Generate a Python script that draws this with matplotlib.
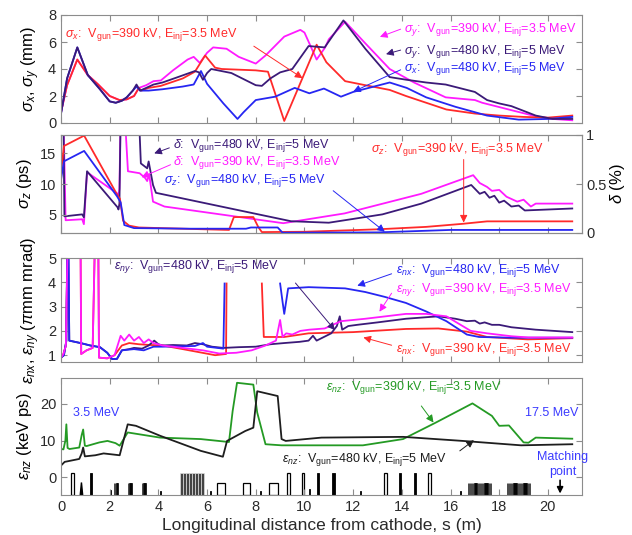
import numpy as np
import matplotlib
matplotlib.use("Agg")
import matplotlib.pyplot as plt

plt.rcParams["font.family"] = ["Liberation Sans", "DejaVu Sans"]
plt.rcParams["mathtext.fontset"] = "custom"
plt.rcParams["mathtext.rm"] = "Liberation Sans"
plt.rcParams["mathtext.it"] = "Liberation Sans:italic"
plt.rcParams["mathtext.bf"] = "Liberation Sans:bold"

NaN = np.nan
RED, MAG, PUR, BLU = "#ff2a2a", "#ff1aff", "#3b1a78", "#2626f2"
GRN, BLK, TXB = "#249a24", "#1e1e1e", "#3a3aff"

# ── panel 1: beam sizes (mm) ─────────────────────────────────────────────────
s_sx390 = [0, 0.25, 0.67, 1.1, 1.5, 2.0, 2.4, 2.7, 3.0, 3.2, 3.3, 3.6, 4.1, 5.0, 5.5, 5.92,
           6.33, 6.6, 8.0, 8.5, 9.17, 10.5, 10.9, 11.67, 12.5, 13.5, 14.17, 15.0, 15.83,
           17.0, 18.0, 19.0, 20.0, 21.0]
sx390 = [0.8, 2.8, 4.7, 3.55, 2.9, 2.0, 1.7, 1.75, 2.0, 2.6, 2.4, 2.6, 2.75, 3.3, 3.8, 5.0,
         4.1, 4.0, 3.9, 3.8, 0.15, 5.8, 4.5, 3.1, 2.8, 2.45, 2.0, 1.5, 1.0,
         0.7, 0.55, 0.45, 0.4, 0.55]

s_sy390 = [0, 0.25, 0.67, 1.1, 1.5, 2.0, 2.4, 2.7, 3.0, 3.2, 3.5, 3.8, 4.1, 4.6, 5.2, 5.45,
           5.7, 6.0, 6.25, 6.8, 7.3, 8.0, 8.4, 9.17, 9.83, 10.0, 10.5, 10.85, 11.0, 11.67,
           12.5, 13.5, 14.5, 15.8, 17.0, 17.3, 18.5, 19.5, 20.2, 21.0]
sy390 = [0.8, 2.8, 4.7, 3.55, 2.9, 2.0, 1.7, 1.75, 2.0, 2.6, 2.8, 3.1, 3.15, 3.9, 4.7, 4.9,
         4.45, 5.2, 5.6, 5.5, 4.9, 4.4, 5.0, 6.4, 6.9, 6.7, 4.7, 5.6, 6.2, 7.5,
         5.9, 4.0, 3.0, 1.9, 1.7, 1.5, 0.95, 0.5, 0.3, 0.2]

s_sy480 = [0, 0.25, 0.67, 1.1, 1.6, 2.0, 2.25, 2.5, 2.7, 2.95, 3.1, 3.25, 3.5, 3.8, 4.17,
           4.8, 5.5, 5.67, 5.83, 6.0, 6.17, 7.0, 8.0, 8.25, 8.6, 9.0, 9.5, 10.17, 10.83,
           11.6, 12.5, 13.5, 14.2, 15.0, 15.8, 17.0, 17.5, 18.0, 18.5, 19.5, 20.2, 21.0]
sy480 = [0.7, 3.3, 5.6, 3.55, 2.5, 1.6, 1.5, 1.65, 1.9, 2.4, 2.85, 2.4, 2.6, 2.85, 3.0,
         3.4, 3.85, 3.75, 3.2, 3.7, 4.0, 3.7, 2.8, 2.75, 3.3, 3.75, 4.0, 5.7, 5.6,
         7.6, 5.5, 3.4, 3.2, 3.0, 2.85, 2.3, 1.7, 1.45, 1.25, 0.55, 0.3, 0.3]

s_sx480 = [0, 0.25, 0.67, 1.1, 1.6, 2.0, 2.25, 2.5, 2.7, 2.95, 3.1, 3.25, 3.6, 4.17, 5.0,
           5.45, 5.75, 6.0, 6.67, 7.25, 7.5, 8.0, 8.8, 9.6, 10.2, 10.8, 11.5, 12.0, 13.5,
           14.2, 15.0, 16.2, 17.5, 18.8, 20.0, 21.0]
sx480 = [0.7, 3.3, 5.6, 3.55, 2.5, 1.6, 1.5, 1.65, 1.9, 2.4, 2.7, 2.4, 2.4, 2.5, 2.7,
         2.85, 3.85, 2.9, 1.45, 0.3, 0.8, 1.7, 1.95, 2.6, 2.2, 2.55, 1.95, 2.3, 3.0,
         2.6, 1.9, 1.2, 0.55, 0.25, 0.3, 0.45]

# ── panel 2: bunch length (ps) and energy spread (%) ─────────────────────────
s_sz390 = [0, 0.12, 0.95, 2.3, 2.42, 2.55, 2.8, 3.2, 5.0, 6.9, 7.1, 7.9, 8.1, 8.25, 10.0,
           13.0, 15.0, 16.5, 17.5, 21.0]
sz390 = [11.8, 16.2, 17.9, 8.3, 7.6, 4.0, 3.2, 2.9, 2.7, 2.5, 4.6, 4.6, 3.0, 2.15, 2.2,
         2.6, 3.0, 3.5, 3.9, 3.9]

s_sz480 = [0, 0.12, 0.95, 2.3, 2.45, 2.6, 3.0, 5.3, 7.6, 7.8, 8.9, 9.1, 13.0, 16.0, 21.0]
sz480 = [10.7, 13.7, 15.4, 8.0, 7.0, 3.3, 2.8, 2.7, 2.7, 2.9, 2.9, 2.05, 2.1, 2.5, 2.5]

s_d480 = [0, 0.1, 0.14, 0.87, 0.94, 1.07, 2.33, 2.36, 2.4, 2.45, 3.2, 3.28, 3.54, 3.6, 3.78,
          3.9, 9.45, 11.0, 13.2, 14.8, 16.85, 17.2, 17.4, 17.6, 17.8, 18.0, 18.2, 18.5,
          18.8, 19.05, 21.0]
d480 = [1.2, 1.2, 0.17, 0.19, 0.16, 0.63, 0.26, 0.24, 0.3, 1.2, 1.2, 0.71, 0.66, 0.73, 0.49,
        0.41, 0.12, 0.105, 0.19, 0.3, 0.49, 0.4, 0.42, 0.36, 0.38, 0.31, 0.33, 0.27,
        0.28, 0.23, 0.25]

s_d390 = [0, 0.1, 0.19, 0.87, 0.94, 1.07, 2.33, 2.36, 2.4, 2.45, 2.62, 2.75, 3.23, 3.46,
          3.54, 3.62, 3.78, 4.25, 9.13, 11.65, 14.8, 16.93, 17.2, 17.5, 17.7, 18.0, 18.3,
          18.74, 19.0, 19.3, 19.5, 21.0]
d390 = [1.2, 1.2, 0.13, 0.14, 0.09, 0.62, 0.4, 0.38, 0.45, 1.2, 1.2, 0.63, 0.61, 0.56,
        0.53, 0.6, 0.32, 0.27, 0.1, 0.2, 0.4, 0.59, 0.51, 0.47, 0.43, 0.44, 0.37,
        0.32, 0.34, 0.27, 0.3, 0.3]

# ── panel 3: transverse emittance (pi mm mrad) ───────────────────────────────
s_ey390 = [0, 0.1, 0.2, 0.28, 0.8, 0.83, 1.05, 1.3, 1.4, 1.53, 1.56, 1.9, 2.2, 2.45, 2.6,
           2.8, 3.0, 3.2, 3.4, 3.6, 3.8, 4.17, 4.6, 5.0, 5.83, 6.5, 7.2, 7.83, 8.4, 8.83,
           9.0, 9.1, 9.25, 9.5, 9.83, 10.2, 10.83, 11.5, 12.5, 14.17, 15.0, 15.83, 16.83,
           17.5, 18.5, 19.2, 21.0]
ey390 = [0.9, 1.05, 1.4, 6, 6, 1.05, 1.2, 1.3, 6, 6, 0.9, 0.87, 1.0, 1.8, 1.6,
         1.85, 1.6, 1.75, 1.5, 1.65, 1.5, 1.4, 1.35, 1.3, 1.2, 1.07, 1.1, 1.2, 1.4, 1.6,
         2.45, 1.75, 1.9, 1.85, 2.0, 2.05, 2.1, 2.4, 2.5, 2.7, 2.7, 2.6, 2.0,
         1.9, 1.78, 1.73, 1.73]

s_ey480 = [0, 0.12, 0.22, 0.26, 0.3, 0.34, 0.8, 1.2, 1.6, 1.9, 2.1, 2.3, 2.5, 2.8, 3.0,
           3.33, 3.6, 3.83, 4.0, 4.17, 4.6, 5.17, 5.5, 5.83, 6.2, 6.67, 7.3, 8.0, 8.6,
           9.17, 9.8, 10.17, 10.35, 10.5, 10.8, 11.1, 11.33, 11.45, 11.55, 11.8, 12.17,
           13.0, 14.17, 15.5, 16.2, 16.67, 17.0, 17.2, 17.4, 17.7, 18.0, 18.5, 19.5, 21.0]
ey480 = [0.9, 1.0, 1.6, 6, 6, 1.6, 1.5, 1.4, 1.33, 1.1, 0.84, 0.85, 1.2, 1.25, 1.3,
         1.27, 1.4, 1.6, 1.45, 1.4, 1.42, 1.4, 1.5, 1.45, 1.35, 1.3, 1.33, 1.35, 1.45,
         1.5, 1.55, 1.6, 1.8, 1.6, 1.75, 1.9, 2.2, 2.6, 2.05, 2.2, 2.25,
         2.35, 2.5, 2.6, 2.5, 2.4, 2.42, 2.3, 2.35, 2.25, 2.25, 2.15, 2.05, 1.95]

s_ex480 = [0, 0.12, 0.22, 0.26, 0.3, 0.34, 0.8, 1.2, 1.6, 1.9, 2.1, 2.3, 2.5, 3.0, 3.4,
           3.8, 4.17, 5.5, 5.83, 6.0, 6.67, 6.72, 6.73, 9.0, 9.1, 9.17, 9.33, 10.17, 11.67,
           12.5, 13.3, 14.17, 15.0, 15.83, 16.67, 17.17, 18.5, 21.0]
ex480 = [0.9, 1.0, 1.6, 6, 6, 1.6, 1.5, 1.4, 1.33, 1.1, 0.84, 0.85, 1.2, 1.25, 1.2,
         1.35, 1.35, 1.38, 1.5, 1.35, 1.27, 3.95, NaN, 3.95, 3.2, 2.7, 3.75, 3.8, 3.75,
         3.6, 3.4, 3.15, 2.8, 2.4, 1.85, 1.75, 1.72, 1.72]

s_ex390 = [0, 0.1, 0.2, 0.28, 0.8, 0.83, 1.05, 1.3, 1.4, 1.53, 1.56, 1.9, 2.2, 2.5, 2.8,
           3.2, 3.67, 4.17, 5.0, 5.8, 6.33, 6.78, 6.8, 6.81, 8.25, 8.33, 9.17, 10.17, 12.0,
           14.17, 15.5, 16.67, 17.5, 19.17, 21.0]
ex390 = [0.9, 1.05, 1.4, 6, 6, 1.05, 1.2, 1.3, 6, 6, 0.9, 0.87, 1.0, 1.4, 1.5,
         1.45, 1.42, 1.4, 1.25, 1.1, 1.0, 1.05, 3.95, NaN, 3.95, 1.75, 1.75, 1.9, 1.95,
         2.08, 2.1, 1.97, 1.75, 1.65, 1.7]

# ── panel 4: longitudinal emittance (keV ps) ─────────────────────────────────
s_ez390 = [0, 0.1, 0.18, 0.22, 0.27, 0.35, 0.75, 0.85, 0.91, 0.98, 1.05, 1.58, 1.91, 2.24,
           2.41, 2.74, 4.07, 5.74, 6.9, 7.05, 7.23, 7.9, 8.06, 8.4, 9.06, 12.4, 14.05,
           15.4, 16.9, 17.7, 18.0, 18.4, 19.0, 19.2, 19.5, 21.0]
ez390 = [7.7, 7.6, 10.0, 14.4, 8.0, 7.7, 8.1, 11.5, 13.0, 8.6, 8.5, 9.5, 9.9, 9.3,
         8.6, 12.2, 10.8, 10.4, 9.6, 18.0, 25.7, 25.2, 17.6, 9.0, 8.7, 8.7, 10.4,
         14.9, 20.1, 16.7, 14.0, 14.1, 9.5, 9.4, 10.8, 10.5]

s_ez480 = [0, 0.15, 0.75, 0.85, 0.91, 0.98, 1.41, 1.75, 2.41, 2.74, 3.08, 4.07, 5.74, 6.65,
           6.82, 7.57, 7.9, 8.06, 8.9, 9.06, 9.23, 10.7, 14.05, 16.5, 18.9, 21.0]
ez480 = [3.2, 4.2, 5.0, 6.5, 8.1, 5.7, 6.0, 6.5, 6.0, 14.4, 14.0, 11.3, 7.2, 5.6,
         9.9, 12.6, 13.5, 23.4, 22.1, 10.4, 9.9, 10.8, 11.0, 9.9, 8.7, 9.0]

# beamline elements: start, end, top, kind
el_s0 = [0.40, 0.79, 1.21, 2.02, 2.16, 2.74, 3.32, 4.05, 4.90, 6.13, 6.40, 7.48, 8.18,
         8.53, 9.28, 9.90, 10.18, 10.50, 11.15, 12.28, 13.25, 13.90, 14.50, 15.08, 16.38,
         16.70, 18.30]
el_s1 = [0.55, 0.89, 1.29, 2.07, 2.36, 2.94, 3.52, 4.10, 5.87, 6.18, 6.73, 7.76, 8.23,
         8.90, 9.39, 10.00, 10.23, 10.60, 11.25, 12.33, 13.38, 13.96, 14.60, 15.20, 16.43,
         17.70, 19.30]
el_top = [1.1, -1.4, 1.1, -3.5, -1.5, -1.5, -1.5, -3.8, 1.1, -3.8, -1.5, -1.5, -3.8,
          -1.5, 1.1, 1.1, -3.3, 1.1, 1.1, -3.8, 1.1, 1.1, 1.1, 1.1, -3.8,
          -1.5, -1.5]
el_kind = ["open", "tri", "solid", "solid", "cells", "cells", "cells", "solid", "cryo",
           "solid", "open", "open", "solid", "open", "open", "open", "solid", "solid",
           "solid", "solid", "open", "solid", "solid", "open", "solid", "und", "und"]
match_s = 20.5

# ── figure ───────────────────────────────────────────────────────────────────
fig = plt.figure(figsize=(6.32, 5.35), dpi=100)
L, W = 61 / 632, 521 / 632
ax1 = fig.add_axes([L, 1 - 123 / 535, W, 108 / 535])
ax2 = fig.add_axes([L, 1 - 233 / 535, W, 98 / 535])
ax3 = fig.add_axes([L, 1 - 362 / 535, W, 104 / 535])
ax4 = fig.add_axes([L, 1 - 495 / 535, W, 117 / 535])

LABSZ = 12

def style(ax, bottom=False):
    for sp in ax.spines.values():
        sp.set_color("#8c8c8c"); sp.set_linewidth(0.8)
    ax.tick_params(direction="in", top=True, right=True, color="#8c8c8c",
                   labelcolor="#2a2a2a", labelsize=10.5, length=4, labelbottom=bottom)
    ax.set_xlim(0, 21.4)
    ax.set_xticks(range(0, 21, 2))

def note(ax, x, y, txt, c, tail=None, head=None):
    ax.text(x, y, txt, color=c, fontsize=9, va="center", ha="left")
    if tail is not None:
        ax.annotate("", xy=head, xytext=tail,
                    arrowprops=dict(arrowstyle="-|>", color=c, lw=0.7,
                                    mutation_scale=11, shrinkA=0, shrinkB=0))

lw = 1.3
# panel 1
ax1.plot(s_sy390, sy390, color=MAG, lw=lw)
ax1.plot(s_sx390, sx390, color=RED, lw=lw)
ax1.plot(s_sx480, sx480, color=BLU, lw=lw)
ax1.plot(s_sy480, sy480, color=PUR, lw=lw)
ax1.set_ylim(0, 8); ax1.set_yticks([0, 2, 4, 6, 8])
ax1.set_ylabel(r"$\sigma_x$, $\sigma_y$ (mm)", fontsize=LABSZ, labelpad=4)
style(ax1)
note(ax1, 0.17, 6.56, r"$\sigma_x$:  V$_{\rm gun}$=390 kV, E$_{\rm inj}$=3.5 MeV", RED,
     (7.92, 5.69), (9.92, 3.32))
note(ax1, 14.1, 6.93, r"$\sigma_y$:  V$_{\rm gun}$=390 kV, E$_{\rm inj}$=3.5 MeV", MAG,
     (13.95, 6.95), (13.1, 6.38))
note(ax1, 14.1, 5.31, r"$\sigma_y$:  V$_{\rm gun}$=480 kV, E$_{\rm inj}$=5 MeV", PUR,
     (13.95, 5.4), (13.35, 5.1))
note(ax1, 14.1, 4.06, r"$\sigma_x$:  V$_{\rm gun}$=480 kV, E$_{\rm inj}$=5 MeV", BLU,
     (13.95, 3.94), (12.0, 2.32))

# panel 2
ax2r = ax2.twinx()
ax2r.plot(s_d390, d390, color=MAG, lw=lw)
ax2r.plot(s_d480, d480, color=PUR, lw=lw)
ax2r.set_ylim(0, 1); ax2r.set_yticks([0, 0.5, 1]); ax2r.set_yticklabels(["0", "0.5", "1"])
ax2r.set_ylabel(r"$\delta$ (%)", fontsize=LABSZ, labelpad=1)
ax2r.tick_params(direction="in", color="#8c8c8c", labelcolor="#2a2a2a", labelsize=10.5,
                 length=4, pad=3)
for sp in ax2r.spines.values():
    sp.set_color("#8c8c8c"); sp.set_linewidth(0.8)
ax2.plot(s_sz390, sz390, color=RED, lw=lw)
ax2.plot(s_sz480, sz480, color=BLU, lw=lw)
ax2.set_ylim(2, 18); ax2.set_yticks([5, 10, 15])
ax2.set_ylabel(r"$\sigma_z$ (ps)", fontsize=LABSZ, labelpad=4)
style(ax2)
ax2.tick_params(right=False)
ax2.set_zorder(ax2r.get_zorder() + 1); ax2.patch.set_visible(False)
note(ax2, 4.6, 16.3, r"$\delta$:  V$_{\rm gun}$=480 kV, E$_{\rm inj}$=5 MeV", PUR,
     (4.45, 15.9), (3.83, 15.0))
note(ax2, 4.6, 13.5, r"$\delta$:  V$_{\rm gun}$=390 kV, E$_{\rm inj}$=3.5 MeV", MAG,
     (4.5, 13.15), (3.31, 11.1))
note(ax2, 4.25, 10.55, r"$\sigma_z$:  V$_{\rm gun}$=480 kV, E$_{\rm inj}$=5 MeV", BLU,
     (11.18, 8.9), (13.3, 2.2))
note(ax2, 12.72, 15.65, r"$\sigma_z$:  V$_{\rm gun}$=390 kV, E$_{\rm inj}$=3.5 MeV", RED,
     (16.54, 14.0), (16.54, 3.7))

# panel 3
ax3.plot(s_ex390, ex390, color=RED, lw=lw)
ax3.plot(s_ey480, ey480, color=PUR, lw=lw)
ax3.plot(s_ex480, ex480, color=BLU, lw=lw)
ax3.plot(s_ey390, ey390, color=MAG, lw=lw)
ax3.set_ylim(0.72, 5); ax3.set_yticks([1, 2, 3, 4, 5])
ax3.set_ylabel(r"$\epsilon_{nx}$, $\epsilon_{ny}$ ($\pi$mm mrad)", fontsize=LABSZ,
               labelpad=4)
style(ax3)
note(ax3, 2.17, 4.66, r"$\epsilon_{ny}$:  V$_{\rm gun}$=480 kV, E$_{\rm inj}$=5 MeV", PUR,
     (9.63, 3.97), (11.25, 2.03))
note(ax3, 13.75, 4.49, r"$\epsilon_{nx}$:  V$_{\rm gun}$=480 kV, E$_{\rm inj}$=5 MeV", BLU,
     (13.58, 4.35), (12.17, 3.86))
note(ax3, 13.75, 3.69, r"$\epsilon_{ny}$:  V$_{\rm gun}$=390 kV, E$_{\rm inj}$=3.5 MeV", MAG,
     (13.58, 3.55), (13.08, 2.79))
note(ax3, 13.75, 1.23, r"$\epsilon_{nx}$:  V$_{\rm gun}$=390 kV, E$_{\rm inj}$=3.5 MeV", RED,
     (13.58, 1.41), (12.42, 1.73))

# panel 4
base = -4.8
ax4.plot(s_ez390, ez390, color=GRN, lw=lw)
ax4.plot(s_ez480, ez480, color=BLK, lw=lw)
for a, b, top, kind in zip(el_s0, el_s1, el_top, el_kind):
    if kind == "tri":
        ax4.fill([a, (a + b) / 2, b], [base, top, base], color="k")
    elif kind in ("cells", "und", "cryo"):
        n = {"cells": 4, "und": 22, "cryo": 8}[kind]
        edges = np.linspace(a, b, n + 1)
        fc = "#444444" if kind == "cryo" else "k"
        ec = "#dddddd" if kind == "cryo" else "k"
        frac = {"cells": 0.55, "und": 0.35, "cryo": 1}[kind]
        ax4.bar(edges[:-1], top - base, width=np.diff(edges) * frac,
                bottom=base, align="edge", color=fc, edgecolor=ec, lw=0.5)
    elif kind == "open":
        ax4.bar(a, top - base, width=b - a, bottom=base, align="edge", color="white",
                edgecolor="k", lw=0.9)
    else:
        ax4.bar(a, top - base, width=b - a, bottom=base, align="edge", color="k",
                edgecolor="k", lw=0.6)
ax4.annotate("", xy=(match_s, base + 0.4), xytext=(match_s, -0.8),
             arrowprops=dict(arrowstyle="-|>", color="k", lw=1.2, mutation_scale=9,
                             shrinkA=0, shrinkB=0))
ax4.set_ylim(base, 27); ax4.set_yticks([0, 10, 20])
ax4.set_ylabel(r"$\epsilon_{nz}$ (keV ps)", fontsize=LABSZ, labelpad=4)
style(ax4, bottom=True)
ax4.set_xlabel("Longitudinal distance from cathode, s (m)", fontsize=12.5, color="#2a2a2a",
               labelpad=3)
note(ax4, 10.89, 24.3, r"$\epsilon_{nz}$:  V$_{\rm gun}$=390 kV, E$_{\rm inj}$=3.5 MeV", GRN,
     (14.8, 19.4), (15.3, 14.9))
note(ax4, 9.06, 4.8, r"$\epsilon_{nz}$:  V$_{\rm gun}$=480 kV, E$_{\rm inj}$=5 MeV", BLK,
     (16.38, 7.2), (16.96, 10.1))
ax4.text(0.5, 17.6, "3.5 MeV", color=TXB, fontsize=9, va="center", ha="left")
ax4.text(21.25, 17.6, "17.5 MeV", color=TXB, fontsize=9, va="center", ha="right")
ax4.text(20.6, 3.5, "Matching\npoint", color=TXB, fontsize=9, va="center", ha="center",
         linespacing=1.3)

fig.savefig("out.png", dpi=100)
